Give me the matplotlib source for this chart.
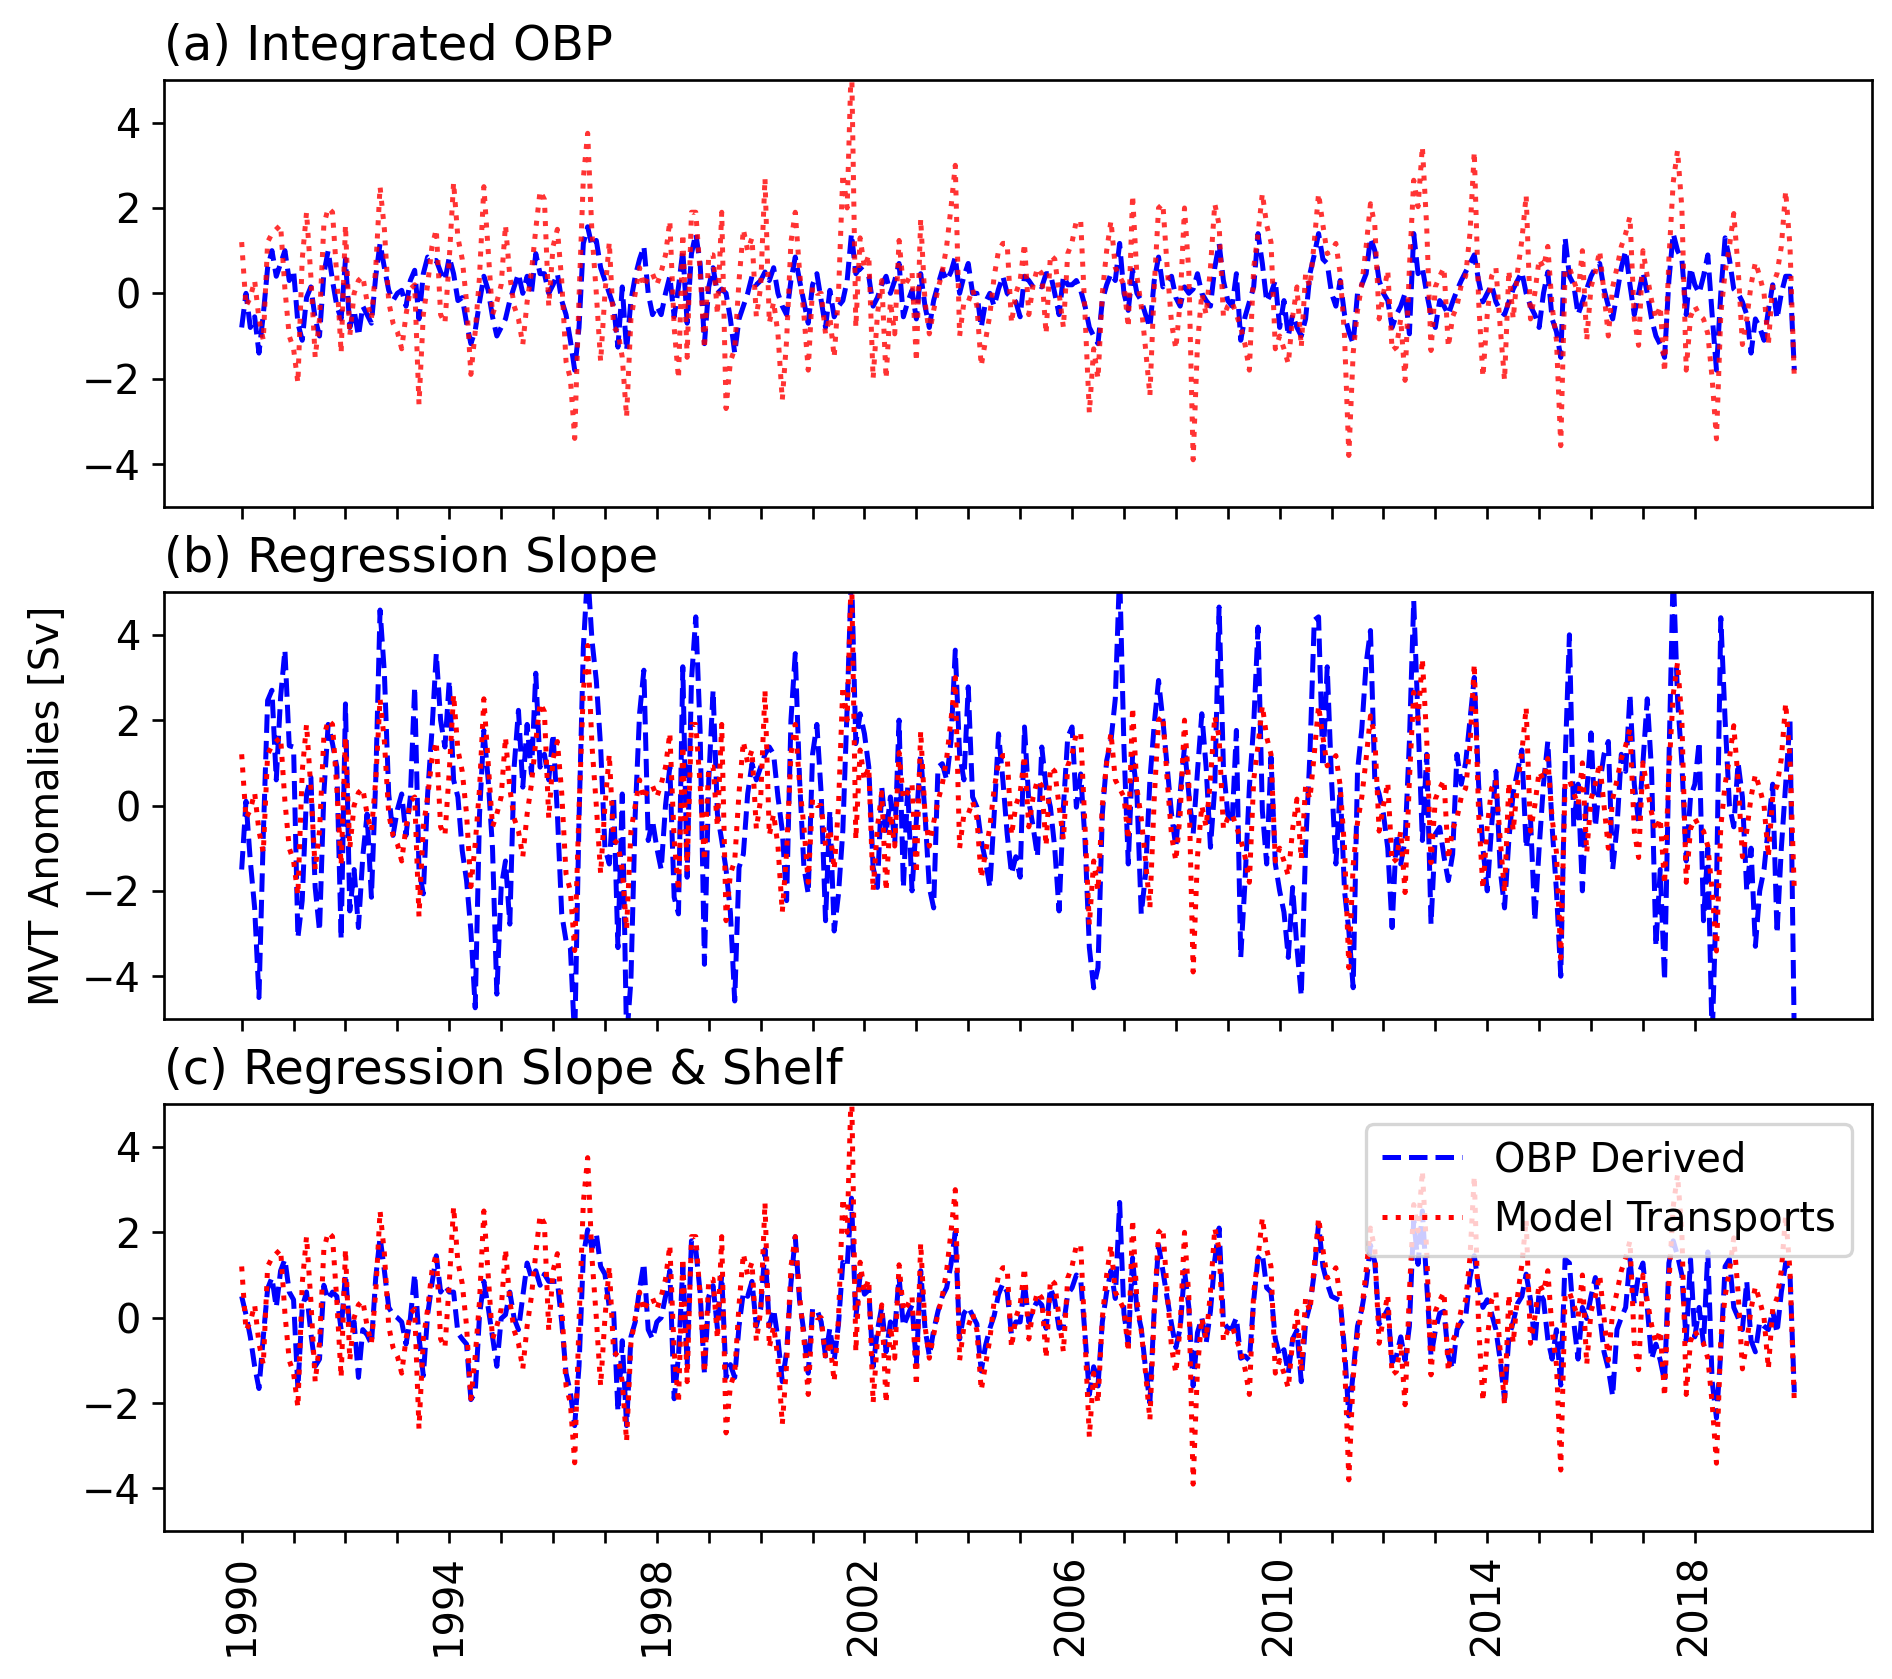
import numpy as np
import matplotlib
matplotlib.use('Agg')
import matplotlib.pyplot as plt

plt.rcParams['font.size'] = 12

# monthly MVT anomalies [Sv], Jan 1990 - Dec 2019 (one row = one year)
model_transports = [
    1.2, -0.3, -0.1, 0.3, -0.6, -1.1, 1.2, 1.4, 1.5, 1.6, 0.1, -1.0,
    -1.3, -2.1, 0.8, 1.9, 0.4, -1.5, -0.6, 1.6, 2.0, 1.9, 0.4, -1.4,
    1.6, -1.0, 0.0, 0.3, 0.4, -0.2, -0.6, 0.6, 2.5, 1.5, -0.2, -0.7,
    -0.9, -1.3, -0.5, 0.1, 0.2, -2.6, -0.5, 0.2, 1.1, 1.5, -0.5, -0.7,
    0.8, 2.6, 1.3, 0.8, -0.2, -1.9, -0.9, 0.4, 2.5, 1.0, -0.5, -0.2,
    0.2, 1.6, 0.4, -0.3, -0.6, -1.2, -0.2, 0.5, 1.5, 2.4, 2.2, -0.3,
    1.1, 1.5, 0.3, -1.6, -2.0, -3.4, -0.1, 2.7, 3.75, 1.4, 0.0, -1.6,
    0.0, 1.2, -0.8, -0.9, -1.5, -2.9, -0.6, 0.0, 0.6, 0.15, 0.4, 0.46,
    0.2, 0.5, 0.9, 1.7, -0.8, -2.0, 1.4, -1.5, 1.9, 1.9, 0.5, -1.3,
    0.9, 0.9, -0.5, 1.9, -2.7, -1.6, -1.3, 0.3, 1.5, 1.0, 1.3, -0.55,
    0.15, 2.7, -0.7, -0.2, -0.95, -2.5, -1.1, 1.2, 1.9, 0.5, -0.5, -1.8,
    0.15, 0.0, 0.0, -0.95, -0.55, -1.5, 0.0, 2.8, 2.0, 5.6, -0.8, 1.3,
    0.6, 0.9, -2.0, -0.5, 0.3, -2.0, -0.2, -0.95, 1.24, 0.15, 0.3, 0.5,
    -1.6, 1.75, -0.2, -0.95, -0.4, 0.1, 0.5, 1.1, 2.0, 3.0, -1.0, -0.2,
    -0.2, 0.1, -0.3, -1.7, -1.1, -0.5, 0.4, 1.0, 1.17, 1.17, -0.7, 0.0,
    0.3, 1.17, -0.5, 0.2, 0.6, 0.46, -0.95, 0.9, 0.8, 0.0, -0.8, 0.93,
    1.2, 1.7, 1.7, -0.5, -2.8, -1.3, -2.0, 0.0, 1.0, 1.7, 0.6, 0.4,
    0.2, -0.8, 2.3, 0.4, -0.3, -1.3, -2.4, 0.15, 2.0, 2.1, 0.6, -0.7,
    -1.3, -0.2, 2.0, 0.5, -3.9, -1.2, 0.0, -0.5, 0.6, 2.1, 1.6, -0.55,
    -0.3, -0.2, -0.5, -0.8, -1.2, -1.8, 0.6, 1.4, 2.34, 1.6, 1.2, -1.3,
    -1.0, -1.3, -1.65, -0.55, 0.15, -1.26, 0.46, 0.15, 1.2, 2.34, 1.6, 0.93,
    1.0, 1.17, 0.46, -1.0, -3.8, -1.4, -0.4, 0.2, 1.1, 2.1, 1.6, -0.6,
    0.0, 0.54, -1.34, -1.26, -0.6, -2.04, 0.6, 2.65, 2.03, 3.44, 1.56, -1.34,
    0.15, 0.4, 0.6, -1.26, -0.55, -0.3, 0.2, 0.4, 1.4, 3.32, -0.17, -1.96,
    -0.5, 0.4, 0.6, -0.8, -2.04, 0.54, -0.6, 0.5, 1.24, 2.3, -0.6, 0.0,
    0.8, 0.6, 1.1, -0.3, -1.1, -3.57, 0.54, 0.6, 0.3, 0.0, 1.0, -1.1,
    0.15, 0.5, 1.0, 0.0, -1.0, 0.15, 0.6, 1.1, 1.4, 1.8, -0.6, -1.22,
    1.0, 0.4, -0.17, -0.6, -0.3, -1.85, 0.8, 2.6, 3.35, 2.0, -1.8, -0.55,
    -0.3, -0.5, -0.6, -0.95, -2.0, -3.41, -0.5, 0.5, 1.1, 1.87, 0.6, -1.2,
    -0.6, 0.2, 0.73, 0.4, 0.0, -1.2, 0.2, 0.46, 1.1, 2.4, 1.1, -2.0,
]

obp_integrated = [
    -0.8, 0.0, -0.8, -0.55, -1.4, -0.5, 0.6, 1.0, 0.4, 0.7, 1.0, 0.3,
    0.54, -0.7, -1.1, -0.1, 0.15, -0.6, -1.0, 0.46, 1.0, 0.3, -0.3, -0.6,
    0.8, -0.8, -0.4, -1.0, -0.3, -0.5, -0.7, 0.4, 1.17, 0.6, 0.07, -0.17,
    0.0, 0.07, -0.3, 0.3, 0.54, -0.6, 0.46, 0.85, 0.77, 0.77, 0.5, 0.3,
    0.85, 0.46, -0.17, -0.1, -0.7, -1.18, -0.87, -0.2, 0.4, 0.07, -0.55, -1.0,
    -0.8, -0.6, -0.17, 0.15, 0.46, 0.0, 0.4, 0.0, 0.93, 0.46, 0.46, 0.0,
    0.2, 0.46, -0.17, -0.5, -1.1, -1.8, -0.8, 1.17, 1.56, 1.1, 1.24, 0.6,
    0.3, 0.0, -0.3, -1.26, 0.15, -1.34, -0.17, 0.4, 0.8, 1.1, 0.0, -0.5,
    -0.3, -0.5, 0.0, 0.4, -0.55, 0.15, 1.0, -0.7, 0.93, 1.4, 0.7, -1.18,
    0.15, 0.6, 0.0, 0.1, 0.0, -0.6, -1.4, -0.6, -0.3, 0.0, 0.4, 0.2,
    0.3, 0.5, 0.3, 0.6, 0.0, -0.3, -0.5, 0.3, 0.85, 0.3, -0.2, -0.7,
    0.2, 0.46, -0.17, -0.8, 0.07, -0.55, -0.3, -0.17, 0.3, 1.4, 0.46, 0.6,
    0.5, 0.4, -0.3, -0.1, 0.2, 0.4, 0.0, 0.3, 0.7, -0.55, -0.2, 0.07,
    -0.6, 0.46, -0.3, -0.8, -0.17, 0.2, 0.54, 0.3, 0.5, 0.85, 0.0, 0.4,
    0.7, 0.0, 0.0, -0.8, -0.2, 0.0, -0.3, 0.1, 0.4, 0.0, -0.1, -0.2,
    -0.55, 0.4, 0.3, 0.15, 0.2, 0.15, 0.46, 0.46, 0.0, -0.5, 0.4, 0.2,
    0.2, 0.3, 0.07, -0.3, -0.8, -1.0, -1.18, -0.17, 0.2, 0.46, 0.3, 1.17,
    0.0, -0.4, 0.54, 0.0, -0.17, -0.5, -0.8, 0.3, 0.85, 0.15, 0.3, 0.4,
    -0.1, -0.3, 0.15, 0.0, 0.1, 0.46, 0.0, -0.17, -0.3, 0.6, 1.17, 0.3,
    -0.17, -0.3, 0.46, -1.1, -0.55, -0.2, 0.15, 1.4, 0.7, -0.2, 0.0, 0.3,
    -0.8, -0.17, -1.0, -0.5, -0.8, -1.0, -0.6, 0.46, 0.9, 1.4, 0.8, 0.7,
    0.0, -0.3, 0.3, -0.5, -0.9, -1.18, 0.0, 0.2, 0.46, 1.3, 1.0, 0.3,
    0.0, -0.17, -0.8, -0.5, -0.3, 0.0, -0.95, 1.4, 0.46, 0.6, 0.0, -0.5,
    -0.8, -0.17, -0.3, -0.5, -0.2, 0.07, 0.3, 0.5, 0.7, 0.9, 0.3, -0.2,
    0.0, 0.2, -0.2, -0.4, -0.5, -0.2, 0.1, 0.3, 0.5, 0.0, -0.3, -0.5,
    -0.8, 0.0, 0.5, -0.6, -0.9, -1.5, 1.3, 0.4, 0.2, -0.5, -0.2, 0.1,
    0.4, 0.6, 0.7, 0.1, -0.3, -0.6, 0.0, 0.6, 1.0, 0.2, -0.5, 0.0,
    0.5, 0.0, -0.6, -1.0, -1.2, -1.5, 0.3, 1.4, 1.0, 0.8, -0.5, 0.6,
    0.2, 0.0, 0.4, 0.9, -0.5, -1.8, 0.0, 1.3, 0.8, 0.1, 0.0, -0.2,
    -0.5, -1.4, -0.6, -0.8, -1.1, -0.4, 0.2, -0.6, 0.0, 0.4, 0.4, -1.8,
]

obp_slope = [
    -1.5, 0.1, -1.3, -2.4, -4.5, -0.7, 2.46, 2.7, 0.6, 2.54, 3.64, 1.4,
    1.37, -3.1, -2.23, 0.27, 0.66, -1.92, -2.94, 0.27, 1.9, 1.45, 0.9, -3.13,
    2.38, -2.47, -1.5, -2.86, -1.2, -0.2, -2.15, 0.6, 4.58, 3.1, 0.27, -0.7,
    -0.1, 0.27, -0.7, 0.2, 2.78, -1.5, -2.07, 0.27, 1.76, 3.56, 2.0, 1.37,
    2.93, 0.6, 0.2, -1.06, -1.76, -2.94, -4.74, -0.2, 1.76, 0.6, -1.0, -4.42,
    -1.92, -1.3, -2.78, 0.9, 2.23, 0.43, 1.9, 0.74, 3.1, 0.9, 1.2, 0.6,
    1.68, -0.2, -2.54, -3.17, -3.33, -5.5, -0.35, 3.7, 5.5, 3.87, 2.93, 1.37,
    -1.0, -1.37, 0.2, -3.33, 0.27, -5.5, -4.1, -0.2, 2.15, 3.17, -0.82, -0.35,
    -1.0, -1.5, 0.0, 0.9, -2.15, -2.54, 3.25, -1.68, 2.93, 4.42, 1.76, -3.72,
    0.6, 2.7, -0.2, -0.82, -1.5, -2.5, -4.58, -1.45, -1.14, 0.27, 0.98, 0.6,
    0.9, 1.2, 1.37, 1.2, 0.2, -0.59, -2.23, 2.0, 3.56, 0.6, -1.45, -2.07,
    1.2, 1.9, 0.27, -2.7, -0.12, -2.94, -2.07, -0.59, 2.3, 5.5, 1.45, 2.15,
    1.68, 0.9, -1.45, -1.92, 0.43, -0.67, 0.2, -0.9, 2.0, -1.92, 0.43, -2.0,
    -0.35, 1.2, -0.2, -1.92, -2.4, 0.9, 0.98, 0.6, 1.5, 3.64, 1.2, 0.6,
    2.78, 0.2, -0.04, -0.82, -1.3, -1.92, -0.2, 1.68, 0.6, -0.67, -1.6, -1.2,
    -1.68, 1.84, 0.1, -0.5, -1.2, 1.37, 0.43, -0.04, -1.0, -2.47, -0.04, 1.6,
    1.84, -0.04, 0.74, -0.82, -3.33, -4.27, -3.8, -0.2, 1.05, 1.52, 2.5, 5.5,
    1.37, -1.37, 1.2, 0.27, -2.54, -1.6, 0.6, 1.9, 2.93, 2.0, 0.9, -0.2,
    -0.98, 0.3, 1.37, 0.27, -0.67, 0.8, 2.15, 0.9, -0.98, 0.43, 4.65, 0.9,
    -0.2, -0.43, 1.76, -3.56, -1.76, 0.43, 1.9, 4.18, -0.12, -1.37, 1.13, -1.37,
    -2.0, -2.5, -3.56, -1.92, -3.33, -4.46, -0.98, 1.2, 4.34, 4.42, 0.9, 3.25,
    0.6, -1.37, 0.43, -2.0, -2.94, -4.27, 0.8, 1.8, 3.33, 4.1, 0.6, 0.27,
    -0.2, -1.0, -2.86, -0.67, -1.37, -0.82, 1.5, 4.8, 2.0, -0.82, 1.2, -2.78,
    -0.67, -0.51, -1.2, -1.76, -1.14, 1.2, 0.5, 1.0, 2.0, 3.0, 0.5, -1.0,
    -2.0, -0.5, 0.8, -1.5, -2.4, -0.8, 0.3, 0.8, 1.3, -1.0, -0.3, -2.7,
    -1.0, 0.5, 1.5, -0.5, -2.0, -4.0, 1.0, 4.0, -0.5, 0.5, -2.0, 0.3,
    1.7, -0.5, 0.5, 1.2, 1.5, -1.5, -0.5, 1.2, 0.8, 2.6, 0.5, -0.4,
    1.0, 2.5, 0.8, -3.3, -1.5, -4.1, 1.0, 5.5, 2.5, 1.0, -1.3, 0.2,
    0.5, 1.5, -2.7, -1.0, -5.5, -2.0, 4.4, 2.0, 0.0, -0.5, 1.0, 0.2,
    -2.0, -1.0, -3.3, -2.0, -1.5, -0.5, 0.5, -3.0, -1.0, 0.5, 2.0, -5.5,
]

obp_slope_shelf = [
    0.5, 0.07, -0.45, -1.14, -1.66, -0.45, 0.68, 0.94, 0.24, 1.1, 1.37, 0.6,
    0.42, -1.66, 0.24, 0.6, -0.36, -1.14, -0.97, 0.76, 0.42, 0.6, 0.5, -0.28,
    1.02, -0.28, -0.1, -1.4, -0.28, -0.4, -0.62, 0.94, 1.89, 1.1, 0.24, 0.07,
    0.0, -0.1, -0.62, -0.02, 1.02, -0.45, -1.36, 0.07, 0.8, 1.45, 0.6, 0.76,
    0.6, 0.6, -0.36, -0.5, -0.62, -1.92, -1.75, 0.07, 0.85, 0.24, -0.45, -1.14,
    -0.02, 0.07, 0.6, -0.02, -0.28, 0.5, 1.28, 0.94, 1.1, 0.76, 1.02, 0.85,
    0.85, 0.85, -0.1, -1.3, -1.75, -2.53, -1.14, 1.45, 2.06, 1.63, 1.97, 1.2,
    1.02, 0.24, 0.16, -2.2, -0.54, -2.53, -0.45, -0.1, 0.68, 1.28, -0.28, -0.5,
    -0.1, 0.0, 0.5, 1.1, -1.9, -0.9, 1.2, -1.1, 1.8, 1.6, 0.6, -1.3,
    0.5, 0.75, -0.25, 1.0, -1.4, -1.1, -1.4, -0.2, 0.6, 0.5, 0.85, -0.2,
    0.2, 1.6, -0.2, 0.2, -0.5, -1.5, -0.8, 0.8, 1.9, 0.4, -0.35, -1.3,
    0.2, 0.2, -0.1, -0.9, -0.25, -1.0, -0.15, 1.3, 1.2, 2.8, 0.0, 1.0,
    0.55, 0.65, -1.15, -0.3, 0.25, -0.8, -0.1, -0.3, 0.95, -0.2, 0.05, 0.3,
    -1.1, 1.1, -0.25, -0.9, -0.3, 0.15, 0.5, 0.7, 1.25, 2.0, -0.5, 0.1,
    0.25, 0.05, -0.15, -1.25, -0.65, -0.25, 0.05, 0.55, 0.8, 0.6, -0.4, -0.1,
    -0.1, 0.8, -0.1, 0.2, 0.4, 0.3, -0.25, 0.7, 0.4, -0.25, -0.2, 0.55,
    0.7, 1.0, 0.9, -0.4, -1.8, -1.15, -1.6, -0.1, 0.6, 1.1, 0.45, 2.7,
    0.1, -0.6, 1.4, 0.2, -0.25, -1.2, -2.0, 0.2, 1.7, 1.1, 0.45, -0.15,
    -0.7, -0.25, 1.1, 0.25, -1.6, -0.35, 0.0, -0.6, 0.15, 1.35, 2.1, -0.1,
    -0.25, -0.25, 0.0, -0.95, -0.9, -1.0, 0.4, 1.4, 1.5, 0.7, 0.6, -0.5,
    -0.9, -0.75, -1.3, -0.5, -0.3, -1.5, -0.1, 0.3, 1.05, 2.2, 1.2, 0.8,
    0.5, 0.45, 0.4, -0.75, -2.3, -1.3, -0.2, 0.2, 0.8, 1.7, 1.3, -0.15,
    0.0, 0.2, -1.05, -0.9, -0.45, -1.0, -0.2, 2.3, 1.25, 2.5, 0.8, -0.9,
    -0.3, 0.1, 0.15, -0.9, -1.2, -0.28, -0.1, 0.0, 0.94, 1.45, 0.76, 0.24,
    0.42, 0.1, -0.28, -1.0, -1.92, -0.45, -0.1, 0.33, 0.5, 1.02, 0.42, -0.62,
    0.6, 0.42, -0.5, -0.97, -0.28, -1.58, 1.37, 1.28, -0.1, -0.97, 0.24, -0.02,
    0.5, 0.94, 0.07, -0.8, -1.2, -1.84, -0.28, 0.0, 0.24, 1.37, 0.33, 1.02,
    1.28, 0.24, -0.97, -0.62, -1.0, -1.49, 1.28, 1.8, 1.45, 1.0, -0.54, 1.37,
    -0.45, 0.24, -0.62, 1.54, -1.49, -2.35, -0.8, 1.2, 1.37, 0.24, 0.0, -0.28,
    0.85, -0.54, -0.8, -0.1, -0.2, -0.28, 0.16, -0.36, 0.6, 1.28, 1.02, -1.75,
]

titles = ['(a) Integrated OBP', '(b) Regression Slope', '(c) Regression Slope & Shelf']
tick_years = np.arange(1990, 2019)
tick_labels = [str(y) if (y - 1990) % 4 == 0 else '' for y in tick_years]

years = 1990 + np.arange(len(model_transports)) / 12  # decimal years

fig, axs = plt.subplots(3, 1, figsize=(1892 / 240, 1679 / 240), dpi=240, sharex=True)
fig.subplots_adjust(left=0.0867, right=0.9894, top=0.9524, bottom=0.0881, hspace=0.2)

obp_series = [obp_integrated, obp_slope, obp_slope_shelf]
red_alpha = [0.8, 1.0, 1.0]

for ax, obp, title, alpha in zip(axs, obp_series, titles, red_alpha):
    ax.plot(years, obp, 'b--', lw=1.5, label='OBP Derived')
    ax.plot(years, model_transports, 'r:', lw=1.5, alpha=alpha, label='Model Transports')
    ax.set_ylim(-5, 5)
    ax.set_yticks([-4, -2, 0, 2, 4])
    ax.set_title(title, loc='left')

axs[1].set_ylabel('MVT Anomalies [Sv]')
axs[2].legend(loc='upper right')
axs[2].set_xticks(tick_years)
axs[2].set_xticklabels(tick_labels, rotation=90)

fig.savefig('out.png', dpi=240)
